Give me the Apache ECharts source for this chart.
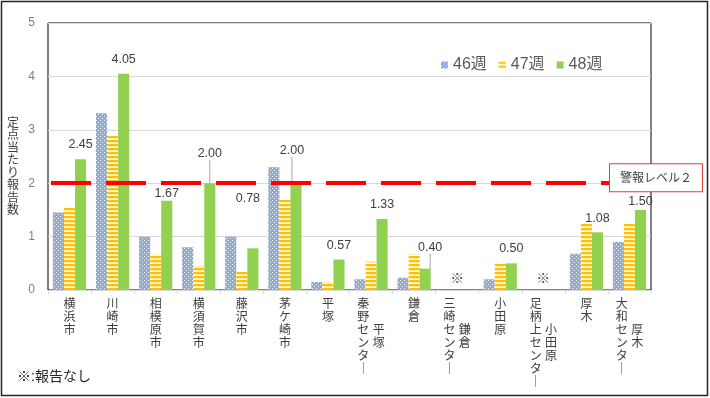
<!DOCTYPE html>
<html>
<head>
<meta charset="utf-8">
<script src="https://cdn.jsdelivr.net/npm/echarts@6/dist/echarts.min.js"></script>
<style>
  html, body { margin: 0; padding: 0; background: #fff; }
  #chart { width: 710px; height: 398px; }
</style>
</head>
<body>
<div id="chart"></div>
<script>
// 保健所・市別カテゴリ
const categories = ['横浜市', '川崎市', '相模原市', '横須賀市', '藤沢市', '茅ケ崎市', '平塚',
  '秦野センター', '鎌倉', '三崎センター', '小田原', '足柄上センター', '厚木', '大和センター'];
// センターの右側に出る管轄名
const subLabels = ['', '', '', '', '', '', '', '平塚', '', '鎌倉', '', '小田原', '', '厚木'];
const week46 = [1.45, 3.31, 1.00, 0.80, 1.00, 2.30, 0.15, 0.20, 0.23, null, 0.20, null, 0.68, 0.90];
const week47 = [1.55, 2.89, 0.67, 0.45, 0.35, 1.70, 0.15, 0.53, 0.67, null, 0.50, null, 1.25, 1.25];
const week48 = [2.45, 4.05, 1.67, 2.00, 0.78, 2.00, 0.57, 1.33, 0.40, null, 0.50, null, 1.08, 1.50];
const noReport = [false, false, false, false, false, false, false, false, false, true, false, true, false, false];
const warningLevel = 2;
const warningText = '警報レベル２';
const yTitle = '定点当たり報告数';

// 48週ラベルの位置調整（Excelで手動移動されたもの）
const labelNudge = { 2: [0, 7], 3: [0, -15], 4: [-5, -36], 5: [-4, -18], 8: [5, -7], 10: [0, -1], 13: [0, 6] };
const leaderIdx = [3, 5, 8];

function makePattern(kind) {
  const c = document.createElement('canvas');
  c.width = 4; c.height = 4;
  const g = c.getContext('2d');
  if (kind === 'dots') {
    g.fillStyle = '#8eaadc';
    g.fillRect(0, 0, 4, 4);
    g.fillStyle = 'rgba(255,255,255,0.9)';
    g.fillRect(0, 0, 1, 1);
    g.fillRect(2, 2, 1, 1);
  } else {
    g.fillStyle = '#ffffff';
    g.fillRect(0, 0, 4, 4);
    g.fillStyle = '#ffc000';
    g.fillRect(0, 0, 4, 2.3);
  }
  return { image: c, repeat: 'repeat' };
}

function verticalLabel(value, index) {
  const main = value.replace(/ー/g, '｜').split('');
  const sub = (subLabels[index] || '').split('');
  if (!sub.length) return main.join('\n');
  const start = Math.floor((main.length - sub.length) / 2);
  return main.map((ch, i) => ch + ' ' + (sub[i - start] || '　')).join('\n');
}

const FONT = "'Liberation Sans', 'Noto Sans CJK JP', sans-serif";
const chart = echarts.init(document.getElementById('chart'));
const option = {
  animation: false,
  textStyle: { fontFamily: FONT },
  graphic: [
    { type: 'rect', shape: { x: 1.5, y: 1.5, width: 706, height: 394 },
      style: { fill: 'none', stroke: '#262626', lineWidth: 1.5 }, silent: true },
    { type: 'text', x: 13, y: 117,
      style: { text: yTitle.split('').join('\n'), fontSize: 12, lineHeight: 12.5,
        align: 'center', verticalAlign: 'top', fill: '#404040', fontFamily: FONT } },
    { type: 'text', left: 17, top: 370,
      style: { text: '※:報告なし', fontSize: 14, fill: '#262626', fontFamily: FONT } }
  ],
  legend: {
    data: ['46週', '47週', '48週'],
    left: 436,
    top: 52,
    icon: 'rect',
    itemWidth: 7,
    itemHeight: 7,
    itemGap: 12,
    textStyle: { fontSize: 16, color: '#595959' }
  },
  grid: {
    left: 48, right: 59, top: 23, bottom: 108,
    show: true, borderColor: '#000', borderWidth: 1
  },
  xAxis: {
    type: 'category',
    data: categories,
    axisLine: { lineStyle: { color: '#d9d9d9' } },
    axisTick: { show: true, length: 4, lineStyle: { color: '#d9d9d9' } },
    axisLabel: {
      interval: 0, margin: 8, fontSize: 12, lineHeight: 13, color: '#404040',
      verticalAlign: 'top',
      formatter: verticalLabel
    }
  },
  yAxis: {
    type: 'value',
    min: 0, max: 5, interval: 1,
    axisLine: { show: false },
    axisTick: { show: false },
    axisLabel: { fontSize: 12, color: '#7f7f7f', margin: 13 },
    splitLine: { lineStyle: { color: '#d9d9d9' } }
  },
  series: [
    {
      name: '46週', type: 'bar', data: week46,
      barGap: '0%', barCategoryGap: '23%',
      itemStyle: { color: makePattern('dots') }
    },
    {
      name: '47週', type: 'bar', data: week47,
      itemStyle: { color: makePattern('stripes') }
    },
    {
      name: '48週', type: 'bar',
      data: week48.map((v, i) => leaderIdx.includes(i) ? { value: v, labelLine: { show: true } } : v),
      itemStyle: { color: '#92d050' },
      label: {
        show: true, position: 'top', distance: 8, fontSize: 12.5, color: '#404040',
        formatter: p => p.value == null ? '' : Number(p.value).toFixed(2)
      },
      labelLine: { show: false, lineStyle: { color: '#a6a6a6', width: 1 } },
      labelLayout: p => {
        const n = labelNudge[p.dataIndex];
        return n ? { dx: n[0], dy: n[1] } : {};
      },
      markLine: {
        silent: true,
        symbol: 'none',
        lineStyle: { color: '#ff0000', width: 4, type: [40, 15], dashOffset: 52 },
        label: {
          show: true, position: 'insideEndTop', distance: [-51, -8],
          formatter: warningText,
          fontSize: 12, color: '#404040',
          backgroundColor: '#fff', borderColor: '#e03c3c', borderWidth: 1,
          padding: [8, 10, 7, 10]
        },
        data: [{ yAxis: warningLevel }]
      }
    },
    {
      name: '報告なし', type: 'scatter',
      data: noReport.map(f => f ? 0 : '-'),
      symbolSize: 1,
      itemStyle: { color: 'rgba(0,0,0,0)' },
      silent: true,
      label: { show: true, position: 'top', distance: 3, formatter: '※', fontSize: 14, color: '#262626' }
    }
  ]
};
chart.setOption(option);
</script>
</body>
</html>
